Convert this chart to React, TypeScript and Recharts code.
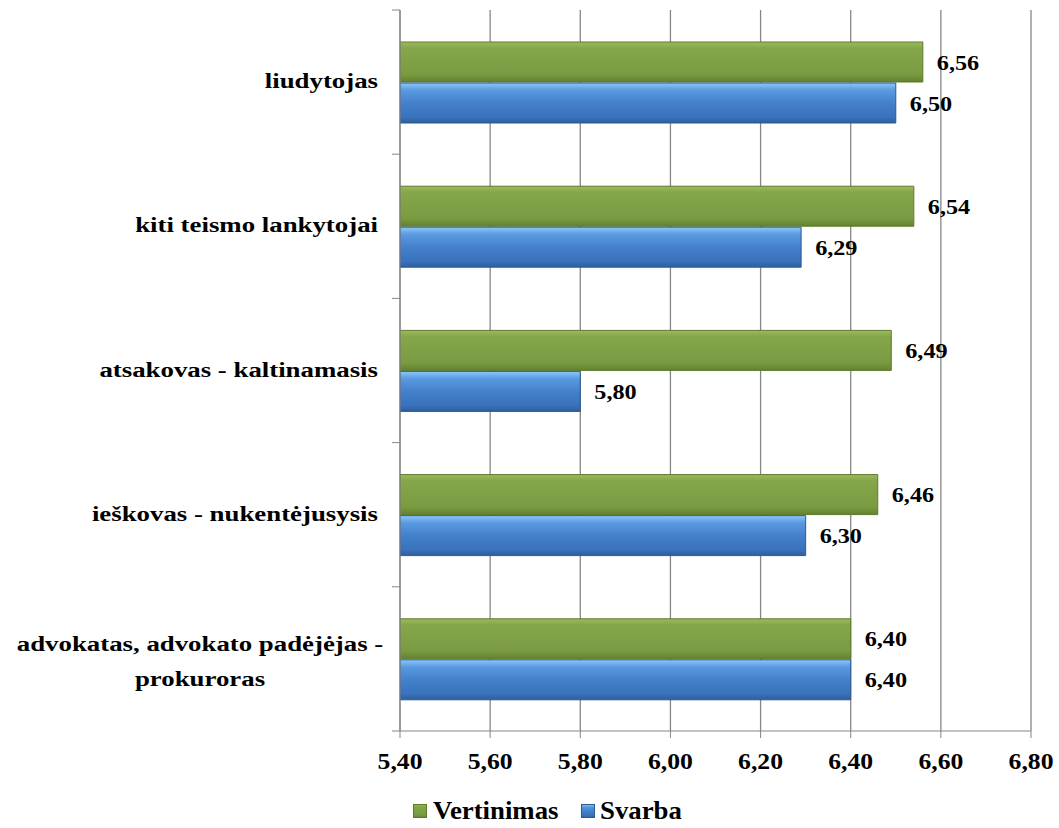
import React from "react";
import { BarChart, Bar, XAxis, YAxis, CartesianGrid, Legend, LabelList } from "recharts";

const categories = [
  "liudytojas",
  "kiti teismo lankytojai",
  "atsakovas - kaltinamasis",
  "ieškovas - nukentėjusysis",
  "advokatas, advokato padėjėjas - prokuroras",
];
const vertinimas = [6.56, 6.54, 6.49, 6.46, 6.4];
const svarba = [6.5, 6.29, 5.8, 6.3, 6.4];
const xTicks = [5.4, 5.6, 5.8, 6.0, 6.2, 6.4, 6.6, 6.8];

const data = categories.map((name, i) => ({ name, vertinimas: vertinimas[i], svarba: svarba[i] }));

const FONT = "Liberation Serif";
const AXIS = "#868686";
const fmt = (v: number) => v.toFixed(2).replace(".", ",");

const BAND = 721 / categories.length;
const SX = 1.22;

function CategoryTick(props: any) {
  const { x, y, payload, index } = props;
  const label: string = payload.value;
  const wrapped = label.startsWith("advokatas");
  return (
    <g>
      <line x1={x + 14} x2={x + 22} y1={y - BAND / 2} y2={y - BAND / 2} stroke={AXIS} />
      {index === categories.length - 1 && (
        <line x1={x + 14} x2={x + 22} y1={y + BAND / 2} y2={y + BAND / 2} stroke={AXIS} />
      )}
      {!wrapped ? (
        <g transform={`translate(${x},${y}) scale(${SX},1)`}>
          <text x={0} y={0} dy={6} textAnchor="end" fontFamily={FONT} fontWeight="bold" fontSize={22} fill="#000">
            {label}
          </text>
        </g>
      ) : (
        <g transform={`translate(${x - 178},${y}) scale(${SX},1)`}>
          <text fontFamily={FONT} fontWeight="bold" fontSize={22} fill="#000" textAnchor="middle">
            <tspan x={0} y={-8}>advokatas, advokato padėjėjas -</tspan>
            <tspan x={0} y={27}>prokuroras</tspan>
          </text>
        </g>
      )}
    </g>
  );
}

function NumberTick(props: any) {
  const { x, y, payload } = props;
  return (
    <g transform={`translate(${x},${y}) scale(1.07,1)`}>
      <text x={0} y={0} dy={29} textAnchor="middle" fontFamily={FONT} fontWeight="bold" fontSize={24} fill="#000">
        {fmt(Number(payload.value))}
      </text>
    </g>
  );
}

function ValueLabel(props: any) {
  const { x, y, width, height, value } = props;
  const lx = x + width + 14;
  const ly = y + height / 2;
  return (
    <g transform={`translate(${lx},${ly}) scale(1.1,1)`}>
      <text x={0} y={0} dy={7.5} fontFamily={FONT} fontWeight="bold" fontSize={22} fill="#000">
        {fmt(Number(value))}
      </text>
    </g>
  );
}

function LegendContent() {
  const items = [
    { name: "Vertinimas", grad: "url(#gGreen)", stroke: "#5d7a2b" },
    { name: "Svarba", grad: "url(#gBlue)", stroke: "#2d5a91" },
  ];
  return (
    <div style={{ display: "flex", justifyContent: "center", paddingLeft: 33 }}>
      {items.map((it, i) => (
        <div
          key={it.name}
          style={{
            display: "flex",
            alignItems: "center",
            marginRight: i === 0 ? 26 : 0,
            fontFamily: FONT,
            fontWeight: "bold",
            fontSize: 26,
            lineHeight: "30px",
            height: 30,
          }}
        >
          <svg width={14} height={14} style={{ marginRight: i === 0 ? 6 : 5 }}>
            <rect x={0.5} y={0.5} width={13} height={13} fill={it.grad} stroke={it.stroke} />
          </svg>
          <span style={{ display: "inline-block", transform: "scaleX(1.03)", transformOrigin: "left center" }}>{it.name}</span>
        </div>
      ))}
    </div>
  );
}

export default function App() {
  return (
    <div style={{ position: "absolute", left: 0, top: 0, width: 1059, height: 828, background: "#fff" }}>
      <BarChart
        width={1059}
        height={828}
        data={data}
        layout="vertical"
        margin={{ top: 10, right: 28, left: 0, bottom: 0 }}
        barCategoryGap={32}
        barGap={1}
      >
        <defs>
          <linearGradient id="gGreen" x1="0" y1="0" x2="0" y2="1">
            <stop offset="0%" stopColor="#9dbb5e" />
            <stop offset="15%" stopColor="#86a64b" />
            <stop offset="80%" stopColor="#7b9b42" />
            <stop offset="100%" stopColor="#63822f" />
          </linearGradient>
          <linearGradient id="gBlue" x1="0" y1="0" x2="0" y2="1">
            <stop offset="0%" stopColor="#8cc8f8" />
            <stop offset="18%" stopColor="#5a9ae0" />
            <stop offset="50%" stopColor="#4480cc" />
            <stop offset="85%" stopColor="#3a72bb" />
            <stop offset="100%" stopColor="#2e5f9e" />
          </linearGradient>
        </defs>
        <CartesianGrid horizontal={false} vertical stroke={AXIS} strokeWidth={1.3} />
        <XAxis
          type="number"
          domain={[5.4, 6.8]}
          ticks={xTicks}
          allowDataOverflow
          height={67}
          stroke={AXIS}
          tickSize={7}
          tickMargin={2}
          tick={<NumberTick />}
        />
        <YAxis
          type="category"
          dataKey="name"
          width={400}
          stroke={AXIS}
          tickLine={false}
          tickSize={0}
          tickMargin={22}
          tick={<CategoryTick />}
        />
        <Legend
          verticalAlign="bottom"
          height={30}
          content={<LegendContent />}
          wrapperStyle={{ top: 796, bottom: "auto", left: 0, width: 1059 }}
        />
        <Bar dataKey="vertinimas" name="Vertinimas" fill="url(#gGreen)" stroke="#5d7a2b" strokeWidth={1} isAnimationActive={false}>
          <LabelList dataKey="vertinimas" content={<ValueLabel />} />
        </Bar>
        <Bar dataKey="svarba" name="Svarba" fill="url(#gBlue)" stroke="#2d5a91" strokeWidth={1} isAnimationActive={false}>
          <LabelList dataKey="svarba" content={<ValueLabel />} />
        </Bar>
      </BarChart>
    </div>
  );
}
